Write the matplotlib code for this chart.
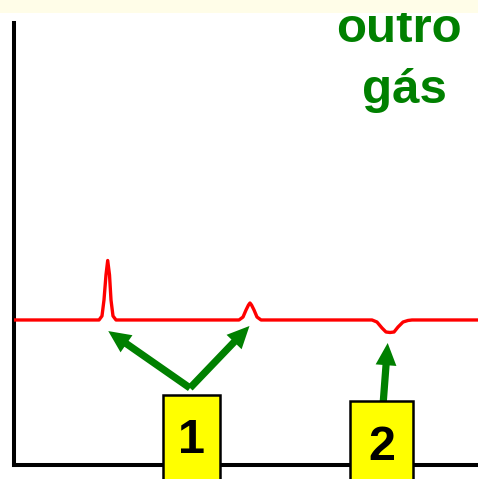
import matplotlib
matplotlib.use("Agg")
import matplotlib.pyplot as plt
from matplotlib.patches import Rectangle, FancyArrowPatch

plt.rcParams['font.family'] = ['Liberation Sans', 'DejaVu Sans']

# Detector trace (time in min, signal in arbitrary units)
time = [0.000, 1.841, 1.905, 1.948, 1.991, 2.028, 2.067, 2.099, 2.142, 2.207,
        4.855, 4.941, 5.006, 5.059, 5.091, 5.124, 5.178, 5.242, 5.329,
        7.718, 7.825, 7.933, 8.019, 8.106, 8.192, 8.278, 8.386, 8.493, 8.579,
        10.000]
signal = [3.281, 3.281, 3.371, 3.733, 4.299, 4.627, 4.299, 3.733, 3.371, 3.281,
          3.281, 3.348, 3.507, 3.620, 3.665, 3.620, 3.507, 3.348, 3.281,
          3.281, 3.235, 3.100, 3.009, 2.998, 3.009, 3.122, 3.235, 3.270, 3.281,
          3.281]

# Peak annotations: label, arrow tips (time, signal), arrow origin
labels = ["1", "2"]
tips = [[(2.040, 3.030), (5.080, 3.145)], [(8.056, 2.760)]]
tails = [(3.800, 1.742), (7.955, 1.357)]
boxes = [(3.219, 4.446, 1.584), (7.244, 8.601, 1.448)]
label_base = [0.271, 0.113]
title_lines = ["outro", "gás"]

W, H = 478, 479
fig = plt.figure(figsize=(W / 100, H / 100), dpi=100)
fig.patch.set_facecolor('white')

# pale strip along the top edge, laid over everything beneath it
strip = Rectangle((0, 1 - 13 / H), 1, 13 / H, transform=fig.transFigure,
                  facecolor='#FFFDE8', edgecolor='none', zorder=10)

ax = fig.add_axes([13.5 / W, 14 / H, (W - 13.5) / W, 442 / H])
ax.set_xlim(0, 10)
ax.set_ylim(0, 10)
ax.set_facecolor('none')
for s in ['top', 'right']:
    ax.spines[s].set_visible(False)
for s in ['left', 'bottom']:
    ax.spines[s].set_linewidth(2.9)
    ax.spines[s].set_color('black')
    ax.spines[s].set_zorder(2)
ax.set_xticks([])
ax.set_yticks([])

ax.plot(time, signal, color='red', lw=2.4, solid_joinstyle='round', zorder=3)

green = '#008000'
for tail, tip_list in zip(tails, tips):
    for tip in tip_list:
        arr = FancyArrowPatch(tail, tip, arrowstyle='simple,head_length=16,head_width=15,tail_width=5.2',
                              mutation_scale=1, shrinkA=0, shrinkB=0, color=green,
                              lw=0, clip_on=False, zorder=4)
        ax.add_patch(arr)

for lab, (x0, x1, top), yb in zip(labels, boxes, label_base):
    ax.add_patch(Rectangle((x0, -1.0), x1 - x0, top + 1.0, facecolor='#FFFF00',
                           edgecolor='black', lw=1.8, clip_on=False, zorder=5))
    ax.text((x0 + x1) / 2, yb, lab, ha='center', va='baseline', fontsize=35,
            fontweight='bold', color='black', zorder=6, clip_on=False)

fig.text(398.5 / W, 1 - 42 / H, title_lines[0], ha='center', va='baseline',
         fontsize=35.5, fontweight='bold', color=green, zorder=5)
fig.text(404 / W, 1 - 103 / H, title_lines[1], ha='center', va='baseline',
         fontsize=35.5, fontweight='bold', color=green, zorder=5)
fig.patches.append(strip)

fig.savefig('out.png', dpi=100)
